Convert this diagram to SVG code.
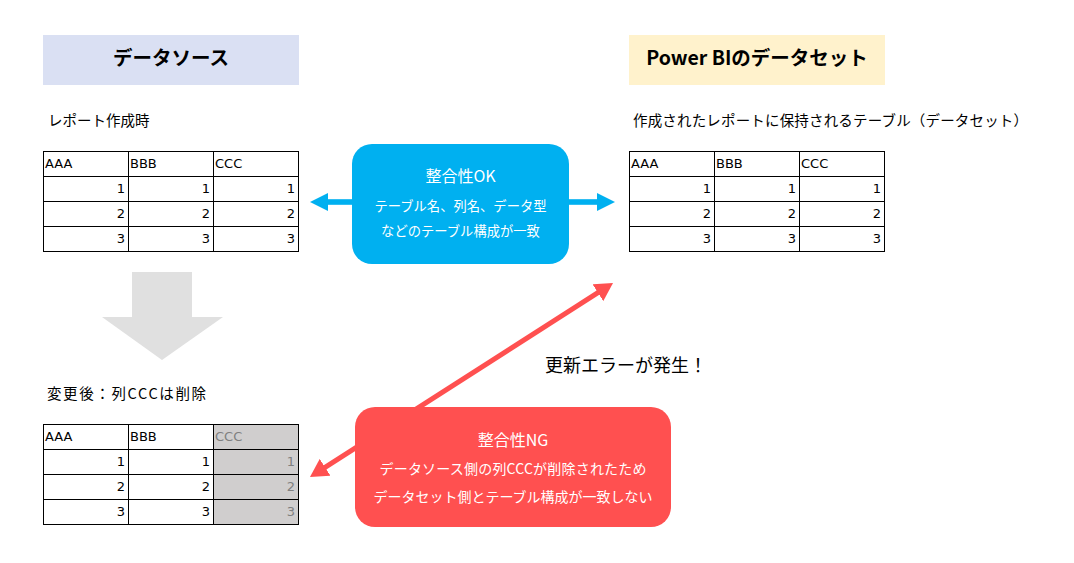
<svg xmlns="http://www.w3.org/2000/svg" width="1074" height="563" viewBox="0 0 1074 563">
<style>
.jp{font-family:"Noto Sans CJK JP","Noto Sans",sans-serif;}
.hd{font-family:"Noto Sans CJK JP","Noto Sans",sans-serif;font-weight:bold;font-size:19.5px;fill:#000;text-anchor:middle;}
.lbl{font-family:"Noto Sans CJK JP","Noto Sans",sans-serif;font-size:14.5px;fill:#000;}
.tb line{stroke:#000;stroke-width:1;}
.tt{font-family:"DejaVu Sans",Verdana,sans-serif;font-size:13px;fill:#000;}
.tn{font-family:"DejaVu Sans",Verdana,sans-serif;font-size:13px;fill:#000;text-anchor:end;}
.gr{fill:#7f7f7f;}
.wt{font-family:"Noto Sans CJK JP","Noto Sans",sans-serif;fill:#fff;text-anchor:middle;}
</style>
<defs>
<marker id="rh" viewBox="0 0 18 20" refX="8" refY="10" markerWidth="18" markerHeight="20" markerUnits="userSpaceOnUse" orient="auto-start-reverse">
<path d="M0,0 L18,10 L0,20 Z" fill="#ff5050"/>
</marker>
</defs>
<rect width="1074" height="563" fill="#fff"/>

<g id="header-source">
<rect x="43" y="35" width="256" height="50" fill="#dae0f3"/>
<text class="hd" x="171" y="65">データソース</text>
</g>
<g id="header-dataset">
<rect x="629" y="35" width="256" height="50" fill="#fff2cc"/>
<text class="hd" x="757" y="65">Power BIのデータセット</text>
</g>

<g id="label-report"><text class="lbl" x="48" y="125.5">レポート作成時</text></g>
<g id="label-dataset"><text class="lbl" x="633" y="125.5" textLength="395" lengthAdjust="spacing">作成されたレポートに保持されるテーブル（データセット）</text></g>
<g id="label-after"><text class="lbl" x="47" y="398.5" textLength="159" lengthAdjust="spacing">変更後：列CCCは削除</text></g>

<g id="table-source" class="tb">
<rect x="43.5" y="151.5" width="255" height="100" fill="#fff" stroke="#000"/>
<line x1="43.5" y1="176.5" x2="298.5" y2="176.5"/>
<line x1="43.5" y1="201.5" x2="298.5" y2="201.5"/>
<line x1="43.5" y1="226.5" x2="298.5" y2="226.5"/>
<line x1="128.5" y1="151.5" x2="128.5" y2="251.5"/>
<line x1="213.5" y1="151.5" x2="213.5" y2="251.5"/>
<text class="tt" x="45" y="168">AAA</text>
<text class="tt" x="130" y="168">BBB</text>
<text class="tt" x="215" y="168">CCC</text>
<text class="tn" x="125" y="193">1</text><text class="tn" x="210" y="193">1</text><text class="tn" x="295" y="193">1</text>
<text class="tn" x="125" y="218">2</text><text class="tn" x="210" y="218">2</text><text class="tn" x="295" y="218">2</text>
<text class="tn" x="125" y="243">3</text><text class="tn" x="210" y="243">3</text><text class="tn" x="295" y="243">3</text>
</g>

<g id="table-dataset" class="tb">
<rect x="629.5" y="151.5" width="255" height="100" fill="#fff" stroke="#000"/>
<line x1="629.5" y1="176.5" x2="884.5" y2="176.5"/>
<line x1="629.5" y1="201.5" x2="884.5" y2="201.5"/>
<line x1="629.5" y1="226.5" x2="884.5" y2="226.5"/>
<line x1="714.5" y1="151.5" x2="714.5" y2="251.5"/>
<line x1="799.5" y1="151.5" x2="799.5" y2="251.5"/>
<text class="tt" x="631" y="168">AAA</text>
<text class="tt" x="716" y="168">BBB</text>
<text class="tt" x="801" y="168">CCC</text>
<text class="tn" x="711" y="193">1</text><text class="tn" x="796" y="193">1</text><text class="tn" x="881" y="193">1</text>
<text class="tn" x="711" y="218">2</text><text class="tn" x="796" y="218">2</text><text class="tn" x="881" y="218">2</text>
<text class="tn" x="711" y="243">3</text><text class="tn" x="796" y="243">3</text><text class="tn" x="881" y="243">3</text>
</g>

<g id="table-after" class="tb">
<rect x="43.5" y="424.5" width="255" height="100" fill="#fff" stroke="#000"/>
<rect x="213.5" y="424.5" width="85" height="100" fill="#d0cece" stroke="#000"/>
<line x1="43.5" y1="449.5" x2="298.5" y2="449.5"/>
<line x1="43.5" y1="474.5" x2="298.5" y2="474.5"/>
<line x1="43.5" y1="499.5" x2="298.5" y2="499.5"/>
<line x1="128.5" y1="424.5" x2="128.5" y2="524.5"/>
<line x1="213.5" y1="424.5" x2="213.5" y2="524.5"/>
<text class="tt" x="45" y="441">AAA</text>
<text class="tt" x="130" y="441">BBB</text>
<text class="tt gr" x="215" y="441">CCC</text>
<text class="tn" x="125" y="466">1</text><text class="tn" x="210" y="466">1</text><text class="tn gr" x="295" y="466">1</text>
<text class="tn" x="125" y="491">2</text><text class="tn" x="210" y="491">2</text><text class="tn gr" x="295" y="491">2</text>
<text class="tn" x="125" y="516">3</text><text class="tn" x="210" y="516">3</text><text class="tn gr" x="295" y="516">3</text>
</g>

<g id="down-arrow">
<polygon points="132,272 192,272 192,317 223,317 162,360 102,317 132,317" fill="#e0e0e0"/>
</g>

<g id="connectors">
<rect x="326" y="199.2" width="28" height="5.6" fill="#00b0f0"/>
<polygon points="310,202 328,193 328,211" fill="#00b0f0"/>
<rect x="567" y="199.2" width="31" height="5.6" fill="#00b0f0"/>
<polygon points="615,202 597,193 597,211" fill="#00b0f0"/>
<line x1="318.4" y1="471.6" x2="604.6" y2="288.4" stroke="#ff5050" stroke-width="5" marker-start="url(#rh)" marker-end="url(#rh)"/>
</g>

<g id="node-ok">
<rect x="352" y="144" width="217" height="120" rx="20" ry="20" fill="#00b0f0"/>
<text class="wt" x="460.5" y="182" font-size="16">整合性OK</text>
<text class="wt" x="460.5" y="211" font-size="13.3">テーブル名、列名、データ型</text>
<text class="wt" x="460.5" y="236" font-size="13.3">などのテーブル構成が一致</text>
</g>

<g id="label-error"><text class="jp" x="545" y="372" font-size="18" fill="#000">更新エラーが発生！</text></g>

<g id="node-ng">
<rect x="355" y="407" width="316" height="120" rx="20" ry="20" fill="#ff5050"/>
<text class="wt" x="513" y="446" font-size="16">整合性NG</text>
<text class="wt" x="513" y="474" font-size="14" textLength="267" lengthAdjust="spacing">データソース側の列CCCが削除されたため</text>
<text class="wt" x="513" y="502" font-size="14">データセット側とテーブル構成が一致しない</text>
</g>
</svg>
